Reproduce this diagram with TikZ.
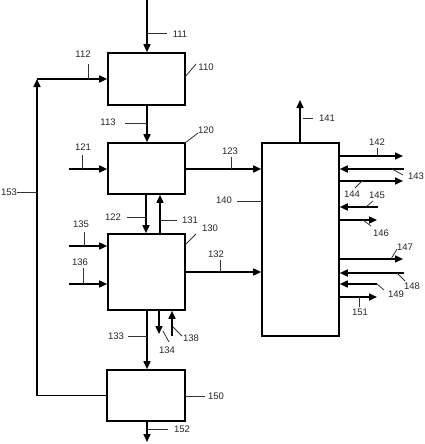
\documentclass[tikz,border=0pt]{standalone}
\usepackage{fontspec}
\setmainfont{Liberation Sans}
\usetikzlibrary{arrows.meta}
\begin{document}
\begin{tikzpicture}[x=1pt,y=-1pt,
  box/.style={draw,line width=1.6pt,inner sep=0pt,minimum width=77pt},
  flow/.style={line width=1.6pt,-{Triangle[length=8pt,width=7pt]}},
  lead/.style={line width=0.8pt,black!80},
  lbl/.style={font=\fontsize{9.5}{10}\selectfont,inner sep=0pt,text=black!85}]
\useasboundingbox (0,0) rectangle (425,444);
% boxes
\node[box,minimum height=52pt] (b110) at (146.5,79) {};
\node[box,minimum height=51pt] (b120) at (146.5,168.5) {};
\node[box,minimum height=76pt] (b130) at (146.5,272) {};
\node[box,minimum height=193pt] (b140) at (300.5,239.5) {};
\node[box,minimum height=51pt,minimum width=78pt] (b150) at (146,395.5) {};
% free ends
\coordinate (s111) at (147,0);
\coordinate (c153) at (37,79);
\coordinate (s121) at (69,169);
\coordinate (s135) at (69,246);
\coordinate (s136) at (69,284);
\coordinate (e134) at (159,334);
\coordinate (s138) at (172,336);
\coordinate (e152) at (147,442);
\coordinate (e141) at (300,100);
\coordinate (e142) at (403,156);
\coordinate (s143) at (404,169);
\coordinate (e144) at (403,181);
\coordinate (s145) at (378,207);
\coordinate (e146) at (377,220);
\coordinate (e147) at (403,259);
\coordinate (s148) at (404,273);
\coordinate (s149) at (377,284);
\coordinate (e151) at (377,297);
% main flows
\draw[flow] (s111) -- (s111 |- b110.north);
\draw[flow] (b110.south -| 147,0) -- (b120.north -| 147,0);
\draw[flow] (b120.south -| 146,0) -- (b130.north -| 146,0);
\draw[flow] (b130.north -| 160,0) -- (b120.south -| 160,0);
\draw[flow] (b130.south -| 147,0) -- (b150.north -| 147,0);
\draw[flow] (b150.south -| 147,0) -- (e152);
\draw[flow] (b150.west) -| (c153);
\draw[flow] (c153) -- (c153 -| b110.west);
\draw[flow] (s121) -- (s121 -| b120.west);
\draw[flow] (s135) -- (s135 -| b130.west);
\draw[flow] (s136) -- (s136 -| b130.west);
\draw[flow] (b120.east |- 0,169) -- (b140.west |- 0,169);
\draw[flow] (b130.east |- 0,272) -- (b140.west |- 0,272);
\draw[flow] (b130.south -| e134) -- (e134);
\draw[flow] (s138) -- (b130.south -| s138);
\draw[flow] (b140.north -| e141) -- (e141);
\draw[flow] (b140.east |- e142) -- (e142);
\draw[flow] (s143) -- (b140.east |- s143);
\draw[flow] (b140.east |- e144) -- (e144);
\draw[flow] (s145) -- (b140.east |- s145);
\draw[flow] (b140.east |- e146) -- (e146);
\draw[flow] (b140.east |- e147) -- (e147);
\draw[flow] (s148) -- (b140.east |- s148);
\draw[flow] (s149) -- (b140.east |- s149);
\draw[flow] (b140.east |- e151) -- (e151);
% labels
\node[lbl] (l111) at (180,34) {111};
\node[lbl] (l110) at (206,67) {110};
\node[lbl] (l112) at (83,54) {112};
\node[lbl] (l113) at (108,122) {113};
\node[lbl] (l120) at (206,130) {120};
\node[lbl] (l121) at (83,147) {121};
\node[lbl] (l123) at (230,151) {123};
\node[lbl] (l153) at (9,192) {153};
\node[lbl] (l122) at (113,217) {122};
\node[lbl] (l131) at (190,220) {131};
\node[lbl] (l130) at (210,228) {130};
\node[lbl] (l135) at (81,224) {135};
\node[lbl] (l136) at (80,262) {136};
\node[lbl] (l140) at (224,200) {140};
\node[lbl] (l132) at (216,254) {132};
\node[lbl] (l141) at (327,118) {141};
\node[lbl] (l142) at (377,142) {142};
\node[lbl] (l143) at (416,176) {143};
\node[lbl] (l144) at (352,194) {144};
\node[lbl] (l145) at (377,195) {145};
\node[lbl] (l146) at (381,233) {146};
\node[lbl] (l147) at (405,247) {147};
\node[lbl] (l148) at (412,286) {148};
\node[lbl] (l149) at (396,294) {149};
\node[lbl] (l151) at (360,312) {151};
\node[lbl] (l133) at (116,336) {133};
\node[lbl] (l134) at (167,350) {134};
\node[lbl] (l138) at (191,338) {138};
\node[lbl] (l150) at (216,396) {150};
\node[lbl] (l152) at (182,429) {152};
% leaders
\draw[lead] (148,33) -- (167,33);
\draw[lead] (185,77) -- (196,64);
\draw[lead] (88,64) -- (88,79);
\draw[lead] (125,123) -- (147,123);
\draw[lead] (185,143) -- (198,133);
\draw[lead] (82,155) -- (82,169);
\draw[lead] (231,157) -- (231,169);
\draw[lead] (17,192) -- (37,192);
\draw[lead] (127,217) -- (146,217);
\draw[lead] (160,220) -- (177,220);
\draw[lead] (185,245) -- (196,234);
\draw[lead] (84,232) -- (84,246);
\draw[lead] (83,268) -- (83,284);
\draw[lead] (237,201) -- (262,201);
\draw[lead] (220,260) -- (220,272);
\draw[lead] (303,118) -- (313,118);
\draw[lead] (377,148) -- (377,156);
\draw[lead] (392,169) -- (403,175);
\draw[lead] (355,188) -- (362,181);
\draw[lead] (366,207) -- (373,201);
\draw[lead] (363,220) -- (371,226);
\draw[lead] (391,259) -- (397,249);
\draw[lead] (397,273) -- (405,281);
\draw[lead] (377,284) -- (384,290);
\draw[lead] (359,297) -- (359,307);
\draw[lead] (128,336) -- (147,336);
\draw[lead] (163,331) -- (169,342);
\draw[lead] (173,327) -- (182,336);
\draw[lead] (185,396) -- (205,396);
\draw[lead] (148,429) -- (168,429);
\end{tikzpicture}
\end{document}
